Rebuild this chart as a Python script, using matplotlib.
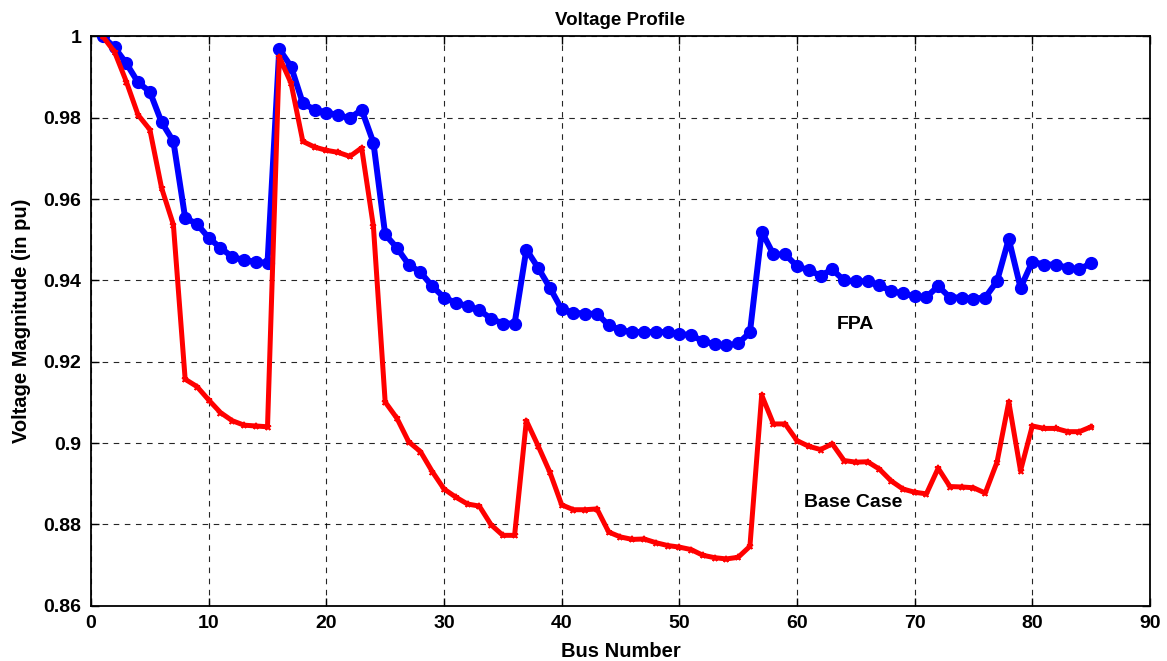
import numpy as np
import matplotlib
matplotlib.use('Agg')
import matplotlib.pyplot as plt

## data
bus = np.arange(1, 86)

fpa = [1.0000, 0.9973, 0.9934, 0.9887, 0.9864, 0.9789, 0.9742, 0.9554, 0.9539, 0.9505,
       0.9480, 0.9458, 0.9450, 0.9446, 0.9443, 0.9969, 0.9926, 0.9836, 0.9820, 0.9813,
       0.9807, 0.9799, 0.9820, 0.9739, 0.9513, 0.9480, 0.9439, 0.9420, 0.9386, 0.9358,
       0.9345, 0.9337, 0.9327, 0.9306, 0.9294, 0.9294, 0.9476, 0.9431, 0.9382, 0.9329,
       0.9321, 0.9318, 0.9318, 0.9290, 0.9278, 0.9273, 0.9273, 0.9273, 0.9273, 0.9269,
       0.9265, 0.9251, 0.9243, 0.9240, 0.9245, 0.9272, 0.9520, 0.9464, 0.9464, 0.9435,
       0.9425, 0.9412, 0.9427, 0.9400, 0.9398, 0.9398, 0.9388, 0.9374, 0.9368, 0.9361,
       0.9359, 0.9386, 0.9358, 0.9358, 0.9355, 0.9358, 0.9398, 0.9502, 0.9382, 0.9446,
       0.9439, 0.9439, 0.9431, 0.9427, 0.9443]

base = [1.0000, 0.9962, 0.9889, 0.9807, 0.9771, 0.9627, 0.9537, 0.9157, 0.9139, 0.9106,
        0.9075, 0.9055, 0.9044, 0.9042, 0.9040, 0.9950, 0.9885, 0.9742, 0.9728, 0.9720,
        0.9715, 0.9705, 0.9726, 0.9533, 0.9101, 0.9061, 0.9003, 0.8979, 0.8930, 0.8887,
        0.8867, 0.8850, 0.8845, 0.8799, 0.8773, 0.8773, 0.9055, 0.8993, 0.8928, 0.8848,
        0.8836, 0.8836, 0.8838, 0.8781, 0.8769, 0.8763, 0.8764, 0.8755, 0.8748, 0.8744,
        0.8738, 0.8724, 0.8718, 0.8715, 0.8719, 0.8746, 0.9118, 0.9047, 0.9047, 0.9006,
        0.8992, 0.8984, 0.8998, 0.8957, 0.8953, 0.8954, 0.8936, 0.8907, 0.8887, 0.8879,
        0.8875, 0.8938, 0.8893, 0.8892, 0.8890, 0.8877, 0.8953, 0.9101, 0.8932, 0.9042,
        0.9036, 0.9036, 0.9028, 0.9028, 0.9040]

plt.rcParams['font.family'] = ['Liberation Sans', 'DejaVu Sans']
plt.rcParams['font.weight'] = 'bold'

fig = plt.figure(figsize=(11.67, 6.61), dpi=100)
ax = fig.add_axes([0.078, 0.0837, 0.9074, 0.8611])

ax.plot(bus, fpa, color='#0000ff', linewidth=4.3, marker='o', markersize=8.5)
ax.plot(bus, base, color='#ff0000', linewidth=3.6, marker='*', markersize=5,
        markeredgewidth=1.2)

ax.set_xlim(0, 90)
ax.set_ylim(0.86, 1.0)
ax.set_xticks(np.arange(0, 91, 10))
ax.set_yticks([0.86, 0.88, 0.90, 0.92, 0.94, 0.96, 0.98, 1.0])
ax.set_yticklabels(['0.86', '0.88', '0.9', '0.92', '0.94', '0.96', '0.98', '1'])
ax.tick_params(direction='in', length=6, width=1, labelsize=14, pad=7,
               top=True, right=True)
for lab in ax.get_xticklabels() + ax.get_yticklabels():
    lab.set_fontweight('bold')
for s in ax.spines.values():
    s.set_linewidth(1.3)

ax.grid(True, color='black', linestyle=(0, (5, 5)), linewidth=0.8, alpha=0.85)
ax.set_axisbelow(True)

ax.set_title('Voltage Profile', fontsize=13.5, fontweight='bold', pad=8)
ax.set_xlabel('Bus Number', fontsize=14.5, fontweight='bold', labelpad=7)
ax.set_ylabel('Voltage Magnitude (in pu)', fontsize=14.5, fontweight='bold', labelpad=9)

ax.text(64.95, 0.9292, 'FPA', fontsize=14, fontweight='bold', ha='center', va='center')
ax.text(64.8, 0.8855, 'Base Case', fontsize=14, fontweight='bold', ha='center', va='center')

plt.savefig('out.png', format='png')
